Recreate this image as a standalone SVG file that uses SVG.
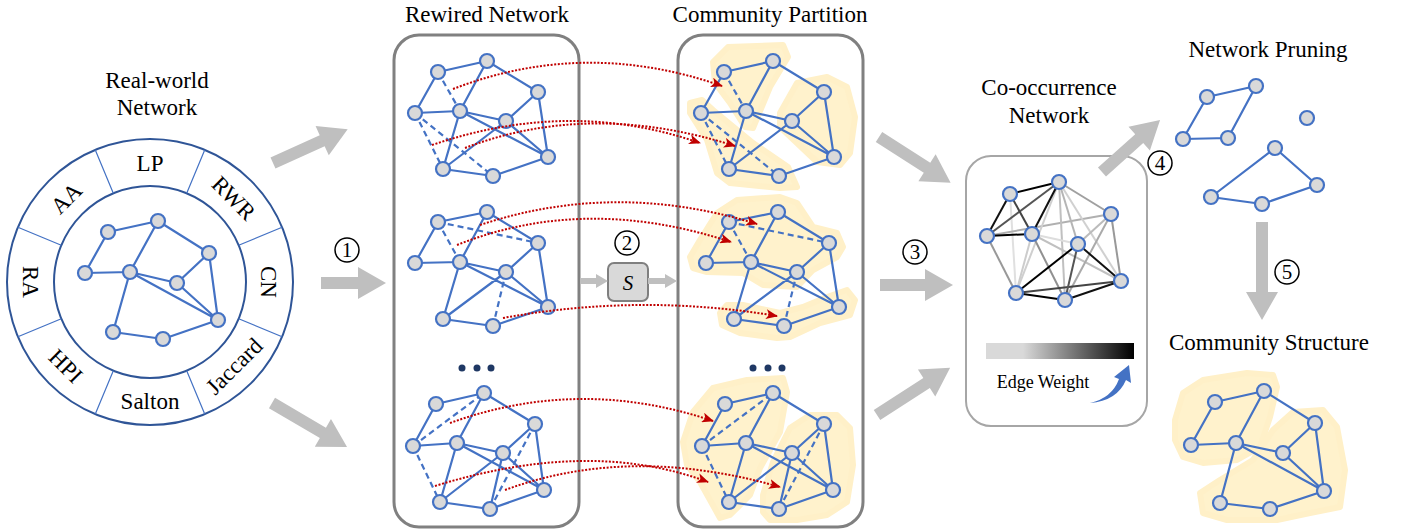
<svg xmlns="http://www.w3.org/2000/svg" xmlns:xlink="http://www.w3.org/1999/xlink" width="1403" height="531" viewBox="0 0 1403 531">
<style>
.t{font-family:"Liberation Serif","Times New Roman",serif;font-size:23px;fill:#000;text-anchor:middle}
.e{stroke:#4472c4;stroke-width:2.2;fill:none;stroke-linecap:round}
.d{stroke:#4472c4;stroke-width:2.2;fill:none;stroke-dasharray:6 4}
.nodes circle{fill:#d9d9d9;stroke:#4472c4;stroke-width:2.2}
.box{fill:none;stroke:#808080;stroke-width:3}
.blob{fill:#fff2cc;stroke:#fff0c8;stroke-width:6;stroke-linejoin:round}
.arr{fill:#bfbfbf}
.red{fill:none;stroke:#c00000;stroke-width:2;stroke-dasharray:2 1.6;marker-end:url(#ah)}
.num circle{fill:none;stroke:#000;stroke-width:1.5}
.num text{font-family:"Liberation Serif","Times New Roman",serif;font-size:21px;text-anchor:middle}
.dots circle{fill:#1f3864}
.co line{stroke-width:2}
</style>
<defs>
<marker id="ah" markerUnits="userSpaceOnUse" markerWidth="12" markerHeight="10" refX="11" refY="5" orient="auto"><path d="M0,0 L12,5 L0,10 L3,5 Z" fill="#c00000"/></marker>
<linearGradient id="gw" x1="0" y1="0" x2="1" y2="0"><stop offset="0" stop-color="#d9d9d9"/><stop offset="0.25" stop-color="#d9d9d9"/><stop offset="1" stop-color="#000"/></linearGradient>
<g id="netA">
<path class="e" d="M438,72L487,61M438,72L415,113M487,61L460,111M487,61L538,92M538,92L506,121M538,92L548,157M415,113L460,111M460,111L506,121M460,111L548,157M506,121L548,157M460,111L443,169M506,121L443,169M443,169L493,176M493,176L548,157"/>
<path class="d" d="M438,72L460,111M415,113L443,169M415,113L493,176"/>
<g class="nodes"><circle cx="438" cy="72" r="7"/><circle cx="487" cy="61" r="7"/><circle cx="538" cy="92" r="7"/><circle cx="415" cy="113" r="7"/><circle cx="460" cy="111" r="7"/><circle cx="506" cy="121" r="7"/><circle cx="548" cy="157" r="7"/><circle cx="443" cy="169" r="7"/><circle cx="493" cy="176" r="7"/></g>
</g>
<g id="netB">
<path class="e" d="M438,222L487,212M438,222L415,263M487,212L460,262M487,212L538,243M538,243L506,272M538,243L548,307M415,263L460,262M460,262L506,272M460,262L548,307M506,272L548,307M506,272L443,319M460,262L443,319M443,319L493,326M493,326L548,307"/>
<path class="d" d="M438,222L460,262M438,222L538,243M506,272L493,326"/>
<g class="nodes"><circle cx="438" cy="222" r="7"/><circle cx="487" cy="212" r="7"/><circle cx="538" cy="243" r="7"/><circle cx="415" cy="263" r="7"/><circle cx="460" cy="262" r="7"/><circle cx="506" cy="272" r="7"/><circle cx="548" cy="307" r="7"/><circle cx="443" cy="319" r="7"/><circle cx="493" cy="326" r="7"/></g>
</g>
<g id="netC">
<path class="e" d="M436,404L484,393M436,404L413,446M484,393L457,443M484,393L535,424M535,424L503,453M535,424L544,490M413,446L457,443M457,443L503,453M457,443L544,490M503,453L544,490M457,443L440,502M503,453L440,502M440,502L490,509M490,509L544,490M503,453L490,509"/>
<path class="d" d="M413,446L484,393M413,446L440,502M535,424L490,509"/>
<g class="nodes"><circle cx="436" cy="404" r="7"/><circle cx="484" cy="393" r="7"/><circle cx="535" cy="424" r="7"/><circle cx="413" cy="446" r="7"/><circle cx="457" cy="443" r="7"/><circle cx="503" cy="453" r="7"/><circle cx="544" cy="490" r="7"/><circle cx="440" cy="502" r="7"/><circle cx="490" cy="509" r="7"/></g>
</g>
</defs>

<rect width="1403" height="531" fill="#fff"/>

<g id="real-world-network">
<text class="t" x="157" y="88">Real-world</text>
<text class="t" x="157" y="115">Network</text>
<circle cx="150" cy="282" r="143" fill="none" stroke="#2f5597" stroke-width="2"/>
<circle cx="150" cy="282" r="96" fill="none" stroke="#2f5597" stroke-width="2"/>
<path stroke="#4472c4" stroke-width="1.2" d="M113.3,193.3L95.3,149.9M186.7,193.3L204.7,149.9M238.7,245.3L282.1,227.3M238.7,318.7L282.1,336.7M186.7,370.7L204.7,414.1M113.3,370.7L95.3,414.1M61.3,318.7L17.9,336.7M61.3,245.3L17.9,227.3"/>
<text class="t" transform="translate(150,163)" dy="8">LP</text>
<text class="t" transform="translate(234,198) rotate(45)" dy="8">RWR</text>
<text class="t" transform="translate(269,282) rotate(90)" dy="8">CN</text>
<text class="t" transform="translate(234,366) rotate(-45)" dy="8">Jaccard</text>
<text class="t" transform="translate(150,401)" dy="8">Salton</text>
<text class="t" transform="translate(66,366) rotate(45)" dy="8">HPI</text>
<text class="t" transform="translate(31,282) rotate(90)" dy="8">RA</text>
<text class="t" transform="translate(66,198) rotate(-45)" dy="8">AA</text>
<path class="e" d="M108,232L158,221M108,232L85,273M158,221L130,272M158,221L209,253M209,253L177,283M209,253L218,320M85,273L130,272M130,272L177,283M130,272L218,320M177,283L218,320M130,272L113,332M113,332L163,339M163,339L218,320"/>
<g class="nodes"><circle cx="108" cy="232" r="7"/><circle cx="158" cy="221" r="7"/><circle cx="209" cy="253" r="7"/><circle cx="85" cy="273" r="7"/><circle cx="130" cy="272" r="7"/><circle cx="177" cy="283" r="7"/><circle cx="218" cy="320" r="7"/><circle cx="113" cy="332" r="7"/><circle cx="163" cy="339" r="7"/></g>
</g>

<g id="rewired-network">
<text class="t" x="487" y="22">Rewired Network</text>
<rect class="box" x="394" y="35" width="185" height="492" rx="25"/>
<use xlink:href="#netA"/>
<use xlink:href="#netB"/>
<use xlink:href="#netC"/>
<g class="dots"><circle cx="462" cy="368" r="3.5"/><circle cx="477" cy="368" r="3.5"/><circle cx="491" cy="368" r="3.5"/></g>
</g>

<g id="community-partition">
<text class="t" x="770" y="22">Community Partition</text>
<rect class="box" x="678" y="35" width="185" height="492" rx="25"/>
<polygon class="blob" points="713,62 728,47 783,45 788,57 770,87 753,128 745,127 730,103 715,83"/>
<polygon class="blob" points="780,113 797,83 827,77 847,87 855,117 850,153 840,165 817,162 797,143 780,127"/>
<polygon class="blob" points="690,103 702,100 713,110 753,143 788,167 797,187 780,188 730,183 717,173 707,140 690,113"/>
<polygon class="blob" points="690,257 700,240 717,213 737,200 780,197 797,203 813,227 837,233 843,247 837,257 813,270 797,287 763,285 743,273 707,272 693,268"/>
<polygon class="blob" points="720,313 727,305 743,305 780,313 803,307 827,297 847,290 855,300 850,315 820,323 790,337 777,338 740,333 722,325"/>
<polygon class="blob" points="683,442 693,412 713,388 747,380 783,378 787,392 780,432 760,468 750,495 730,515 720,518 700,482 687,465"/>
<polygon class="blob" points="763,495 773,462 790,428 810,415 837,415 850,428 853,465 847,502 827,515 797,520 770,520 763,512"/>
<use xlink:href="#netA" transform="translate(286,0)"/>
<use xlink:href="#netB" transform="translate(291,0)"/>
<use xlink:href="#netC" transform="translate(289,0)"/>
<g class="dots"><circle cx="753" cy="368" r="3.5"/><circle cx="768" cy="368" r="3.5"/><circle cx="782" cy="368" r="3.5"/></g>
</g>

<g id="s-operator">
<rect x="608" y="263" width="40" height="38" rx="6" fill="#d9d9d9" stroke="#7f7f7f" stroke-width="2"/>
<text x="628" y="290" font-family="Liberation Serif, serif" font-style="italic" font-size="21" text-anchor="middle">S</text>
</g>

<g id="co-occurrence-network">
<text class="t" x="1049" y="95">Co-occurrence</text>
<text class="t" x="1049" y="123">Network</text>
<rect x="966" y="156" width="181" height="270" rx="25" fill="none" stroke="#a6a6a6" stroke-width="2"/>
<g class="co">
<line x1="1010" y1="194" x2="1016" y2="293" stroke="#e0e0e0"/>
<line x1="987" y1="236" x2="1111" y2="214" stroke="#b0b0b0"/>
<line x1="1059" y1="182" x2="1016" y2="293" stroke="#cfcfcf"/>
<line x1="1059" y1="182" x2="1065" y2="300" stroke="#c0c0c0"/>
<line x1="1059" y1="182" x2="1078" y2="244" stroke="#b5b5b5"/>
<line x1="1059" y1="182" x2="1111" y2="214" stroke="#a0a0a0"/>
<line x1="1059" y1="182" x2="1121" y2="281" stroke="#d0d0d0"/>
<line x1="1032" y1="234" x2="1016" y2="293" stroke="#cccccc"/>
<line x1="1032" y1="234" x2="1065" y2="300" stroke="#909090"/>
<line x1="1032" y1="234" x2="1121" y2="281" stroke="#c0c0c0"/>
<line x1="1032" y1="234" x2="1078" y2="244" stroke="#dddddd"/>
<line x1="1111" y1="214" x2="1078" y2="244" stroke="#bbbbbb"/>
<line x1="1111" y1="214" x2="1121" y2="281" stroke="#999999"/>
<line x1="1111" y1="214" x2="1065" y2="300" stroke="#aaaaaa"/>
<line x1="987" y1="236" x2="1016" y2="293" stroke="#999999"/>
<line x1="1016" y1="293" x2="1121" y2="281" stroke="#444444"/>
<line x1="1078" y1="244" x2="1065" y2="300" stroke="#555555"/>
<line x1="1059" y1="182" x2="987" y2="236" stroke="#555555"/>
<line x1="1010" y1="194" x2="1032" y2="234" stroke="#444444"/>
<line x1="1010" y1="194" x2="1059" y2="182" stroke="#000"/>
<line x1="1010" y1="194" x2="987" y2="236" stroke="#111"/>
<line x1="987" y1="236" x2="1032" y2="234" stroke="#000"/>
<line x1="1059" y1="182" x2="1032" y2="234" stroke="#111"/>
<line x1="1078" y1="244" x2="1016" y2="293" stroke="#000"/>
<line x1="1078" y1="244" x2="1121" y2="281" stroke="#111"/>
<line x1="1016" y1="293" x2="1065" y2="300" stroke="#000"/>
<line x1="1065" y1="300" x2="1121" y2="281" stroke="#111"/>
</g>
<g class="nodes"><circle cx="1010" cy="194" r="7"/><circle cx="1059" cy="182" r="7"/><circle cx="1111" cy="214" r="7"/><circle cx="987" cy="236" r="7"/><circle cx="1032" cy="234" r="7"/><circle cx="1078" cy="244" r="7"/><circle cx="1121" cy="281" r="7"/><circle cx="1016" cy="293" r="7"/><circle cx="1065" cy="300" r="7"/></g>
<rect x="986" y="343" width="148" height="16" fill="url(#gw)"/>
<text x="1043" y="388" font-family="Liberation Serif, serif" font-size="18" text-anchor="middle">Edge Weight</text>
<path d="M1090,403 Q1112,398 1119,379 L1114,377 L1129,365 L1131,383 L1126,380 Q1117,401 1090,403 Z" fill="#4472c4"/>
</g>

<g id="network-pruning">
<text class="t" x="1268" y="57">Network Pruning</text>
<path class="e" d="M1207,97L1256,86M1207,97L1183,139M1183,139L1228,138M1228,138L1256,86M1275,148L1211,197M1275,148L1317,185M1211,197L1262,204M1262,204L1317,185"/>
<g class="nodes"><circle cx="1207" cy="97" r="7"/><circle cx="1256" cy="86" r="7"/><circle cx="1183" cy="139" r="7"/><circle cx="1228" cy="138" r="7"/><circle cx="1307" cy="118" r="7"/><circle cx="1275" cy="148" r="7"/><circle cx="1317" cy="185" r="7"/><circle cx="1211" cy="197" r="7"/><circle cx="1262" cy="204" r="7"/></g>
</g>

<g id="community-structure">
<text class="t" x="1269" y="350">Community Structure</text>
<polygon class="blob" points="1175,420 1183,393 1203,380 1247,373 1273,375 1277,387 1270,417 1260,447 1237,460 1203,463 1183,457 1175,440"/>
<polygon class="blob" points="1200,493 1220,480 1253,460 1273,430 1293,412 1323,410 1337,427 1345,470 1340,507 1310,513 1277,520 1227,520 1203,513"/>
<path class="e" d="M1215,402L1264,391M1215,402L1191,445M1264,391L1236,443M1264,391L1315,423M1315,423L1283,453M1315,423L1324,491M1191,445L1236,443M1236,443L1283,453M1236,443L1324,491M1283,453L1324,491M1236,443L1220,503M1220,503L1270,509M1270,509L1324,491"/>
<g class="nodes"><circle cx="1215" cy="402" r="7"/><circle cx="1264" cy="391" r="7"/><circle cx="1315" cy="423" r="7"/><circle cx="1191" cy="445" r="7"/><circle cx="1236" cy="443" r="7"/><circle cx="1283" cy="453" r="7"/><circle cx="1324" cy="491" r="7"/><circle cx="1220" cy="503" r="7"/><circle cx="1270" cy="509" r="7"/></g>
</g>

<g id="connectors">
<path class="arr" transform="translate(273,163) rotate(-24.4)" d="M0,-6H54V-16L82,0L54,16V6H0Z"/>
<path class="arr" transform="translate(321,283)" d="M0,-6H37V-16L65,0L37,16V6H0Z"/>
<path class="arr" transform="translate(272,403) rotate(30.4)" d="M0,-6H59V-16L87,0L59,16V6H0Z"/>
<path class="arr" transform="translate(879,137) rotate(32.6)" d="M0,-6H57V-16L85,0L57,16V6H0Z"/>
<path class="arr" transform="translate(880,285)" d="M0,-6H45V-16L73,0L45,16V6H0Z"/>
<path class="arr" transform="translate(877,415) rotate(-32.8)" d="M0,-6H59V-16L87,0L59,16V6H0Z"/>
<path class="arr" transform="translate(1102,172) rotate(-41.9)" d="M0,-6H50V-16L78,0L50,16V6H0Z"/>
<path class="arr" transform="translate(1262,222) rotate(90)" d="M0,-6H70V-16L98,0L70,16V6H0Z"/>
<path class="arr" transform="translate(580,281)" d="M0,-3H16V-7L28,0L16,7V3H0Z"/>
<path class="arr" transform="translate(648,281)" d="M0,-3H17V-7L29,0L17,7V3H0Z"/>
<path class="red" d="M453,89Q585,38 722,86"/>
<path class="red" d="M432,145Q570,98 700,143"/>
<path class="red" d="M465,148Q590,100 735,146"/>
<path class="red" d="M480,225Q615,180 757,224"/>
<path class="red" d="M457,245Q585,194 731,242"/>
<path class="red" d="M503,318Q640,293 777,316"/>
<path class="red" d="M450,423Q580,376 713,421"/>
<path class="red" d="M435,486Q590,438 708,482"/>
<path class="red" d="M505,490Q630,444 780,487"/>
<g class="num"><circle cx="347" cy="250" r="12"/><text x="347" y="257">1</text></g>
<g class="num"><circle cx="627" cy="243" r="12"/><text x="627" y="250">2</text></g>
<g class="num"><circle cx="915" cy="252" r="12"/><text x="915" y="259">3</text></g>
<g class="num"><circle cx="1160" cy="163" r="12"/><text x="1160" y="170">4</text></g>
<g class="num"><circle cx="1287" cy="272" r="12"/><text x="1287" y="279">5</text></g>
</g>
</svg>
